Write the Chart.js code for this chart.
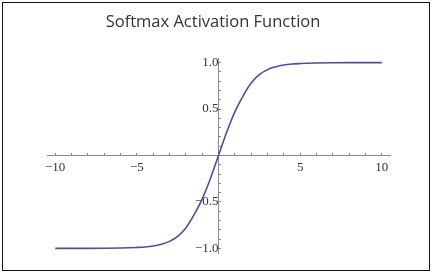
<!DOCTYPE html>
<html>
<head>
<meta charset="utf-8">
<script src="https://cdn.jsdelivr.net/npm/chart.js@4.4.1/dist/chart.umd.min.js"></script>
<style>
  html, body { margin: 0; padding: 0; background: #fff; }
  #wrap { position: relative; width: 433px; height: 277px; }
  #frame {
    position: absolute; left: 2px; top: 2px; width: 426px; height: 267px;
    border: 1.5px solid #111; pointer-events: none;
  }
</style>
</head>
<body>
<div id="wrap">
  <canvas id="chart" width="433" height="277"></canvas>
  <div id="frame"></div>
</div>
<script>
// values
const xValues = [-10, -9, -8, -7, -6, -5, -4.5, -4, -3.5, -3, -2.5, -2, -1.5, -1, -0.5,
                 0, 0.5, 1, 1.5, 2, 2.5, 3, 3.5, 4, 4.5, 5, 6, 7, 8, 9, 10];
const yValues = [-1, -1, -1, -0.999, -0.996, -0.99, -0.985, -0.975, -0.955, -0.925, -0.87, -0.78, -0.64, -0.47, -0.25,
                 0, 0.25, 0.47, 0.64, 0.78, 0.87, 0.925, 0.955, 0.975, 0.985, 0.99, 0.996, 0.999, 1, 1, 1];

const xTicks = [-10, -9, -8, -7, -6, -5, -4, -3, -2, -1, 1, 2, 3, 4, 5, 6, 7, 8, 9, 10];
const xLabels = [-10, -5, 5, 10];
const yTicks = [-1, -0.9, -0.8, -0.7, -0.6, -0.5, -0.4, -0.3, -0.2, -0.1,
                0.1, 0.2, 0.3, 0.4, 0.5, 0.6, 0.7, 0.8, 0.9, 1];
const yLabels = [-1, -0.5, 0.5, 1];

const titleText = 'Softmax Activation Function';

const fmt = (v, digits) => {
  const s = digits ? Math.abs(v).toFixed(digits) : String(Math.abs(v));
  return (v < 0 ? '\u2212' : '') + s;
};
const near = (arr, v) => arr.some(a => Math.abs(a - v) < 1e-6);

const tickFont = { family: 'Liberation Serif', size: 13 };
const axisColor = '#8a8a8a';

// title drawn by hand so it can sit a little left of the plot centre, as in the picture
const titlePlugin = {
  id: 'plainTitle',
  afterDraw(chart) {
    const ctx = chart.ctx;
    ctx.save();
    ctx.font = '16.5px "Open Sans"';
    ctx.fillStyle = '#333';
    ctx.textAlign = 'center';
    ctx.textBaseline = 'middle';
    ctx.fillText(titleText, 213, 22);
    ctx.restore();
  }
};

new Chart(document.getElementById('chart'), {
  type: 'scatter',
  data: {
    datasets: [{
      data: xValues.map((x, i) => ({ x, y: yValues[i] })),
      showLine: true,
      borderColor: '#4e4e9c',
      borderWidth: 1.6,
      pointRadius: 0,
      cubicInterpolationMode: 'monotone'
    }]
  },
  plugins: [titlePlugin],
  options: {
    responsive: false,
    animation: false,
    layout: { padding: { left: 47, right: 43, top: 58, bottom: 24 } },
    plugins: {
      legend: { display: false },
      tooltip: { enabled: false },
      title: { display: false }
    },
    scales: {
      x: {
        type: 'linear',
        position: { y: 0 },
        min: -10.5,
        max: 10.5,
        afterFit: s => { s.height = 0; },
        afterBuildTicks: s => { s.ticks = xTicks.map(v => ({ value: v })); },
        border: { color: axisColor, width: 1 },
        grid: { drawOnChartArea: false, drawTicks: true, tickLength: -3, tickColor: axisColor },
        ticks: {
          autoSkip: false,
          maxRotation: 0,
          padding: 7,
          color: '#333',
          font: tickFont,
          callback: v => near(xLabels, v) ? fmt(v) : ''
        }
      },
      y: {
        type: 'linear',
        position: { x: 0 },
        min: -1.05,
        max: 1.05,
        afterFit: s => { s.width = 0; },
        afterBuildTicks: s => { s.ticks = yTicks.map(v => ({ value: v })); },
        border: { color: axisColor, width: 1 },
        grid: { drawOnChartArea: false, drawTicks: true, tickLength: -3, tickColor: axisColor },
        ticks: {
          autoSkip: false,
          padding: 7,
          color: '#333',
          font: tickFont,
          callback: v => near(yLabels, v) ? fmt(v, 1) : ''
        }
      }
    }
  }
});
</script>
</body>
</html>
